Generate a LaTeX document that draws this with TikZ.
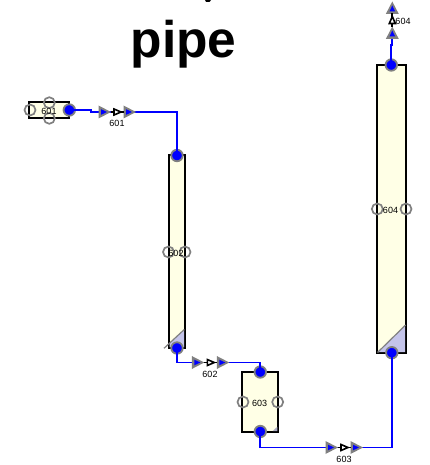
\documentclass[tikz,border=0pt]{standalone}
\usepackage{fontspec}
\setmainfont{Liberation Sans}
\definecolor{cream}{HTML}{FFFFE6}
\definecolor{lav}{HTML}{C4C4EA}
\definecolor{portgrey}{HTML}{808080}
\definecolor{pipeblue}{HTML}{0000FF}
\tikzset{
  x=1pt,y=-1pt,
  vessel/.style={draw=black,line width=2pt,fill=cream,inner sep=0pt,rectangle},
  corner/.style={fill=lav,draw=none},
  cornerline/.style={draw=portgrey,line width=1.2pt},
  pipeline/.style={draw=pipeblue,line width=1.9pt},
  openport/.style={circle,draw=portgrey,line width=1.7pt,minimum size=11pt,inner sep=0pt},
  fullport/.style={circle,draw=portgrey,fill=pipeblue,line width=1.8pt,minimum size=11.5pt,inner sep=0pt},
  tag/.style={font=\fontsize{9}{10}\selectfont,text=black,inner sep=0pt},
  valve/.pic={
    \fill[portgrey] (-19,-6.5) -- (-6.5,0) -- (-19,6.5) -- cycle;
    \fill[portgrey] (6,-6.5) -- (18.5,0) -- (6,6.5) -- cycle;
    \fill[pipeblue] (-16.5,-2.8) -- (-10.5,0) -- (-16.5,2.8) -- cycle;
    \fill[pipeblue] (8.5,-2.8) -- (14.5,0) -- (8.5,2.8) -- cycle;
    \draw[black,line width=1.8pt] (-7,0) -- (6.5,0);
    \draw[black,line width=1.6pt,fill=white] (-3.5,-3) -- (3.5,0) -- (-3.5,3) -- cycle;
  }
}
\begin{document}
\begin{tikzpicture}
\useasboundingbox[fill=white] (0,0) rectangle (429,465);
% title
\node[font=\bfseries\fontsize{51.5}{55}\selectfont,inner sep=0pt] (title) at (183.5,44.5) {pipe};
\fill[black] (205,0) -- (211,0) -- (209.5,2) -- (206,2) -- cycle;

% vessels
\node[vessel,minimum width=16.5pt,minimum height=193pt] (v602) at (176.8,251.5) {};
\node[vessel,minimum width=40pt,minimum height=16.5pt] (v601) at (49.3,110) {};
\node[vessel,minimum width=36pt,minimum height=60.5pt] (v603) at (260.3,402) {};
\node[vessel,minimum width=29pt,minimum height=288.5pt] (v604) at (391.6,208.8) {};

% lower corners
\fill[corner] (169.5,343.4) -- (184,330) -- (184,347) -- (169.5,347) -- cycle;
\draw[cornerline] (164,348.3) -- (184.3,329.5);
\fill[corner] (378,352) -- (405,326) -- (405,352) -- cycle;
\draw[cornerline] (377.5,352.5) -- (405.6,325);
\fill[lav!60!portgrey] (272.7,431) -- (277.3,426.8) -- (277.3,431) -- cycle;

% ports
\node[openport] (a601) at (30,110) {};
\node[openport] (b601) at (49.3,102.7) {};
\node[openport] (c601) at (49.3,118.3) {};
\node[openport] (a602) at (168.5,252) {};
\node[openport] (b602) at (185,252) {};
\node[openport] (a603) at (243,402) {};
\node[openport] (b603) at (277.7,402) {};
\node[openport] (a604) at (377.3,209) {};
\node[openport] (b604) at (406,209) {};

% connector anchors
\coordinate (j1a) at (91,110);
\coordinate (j1b) at (91,112);
\coordinate (k1)  at (177,112);
\coordinate (k2a) at (177,362.5);
\coordinate (k2b) at (260.3,362.5);
\coordinate (k3a) at (260.3,447.5);
\coordinate (k3b) at (391.8,447.5);
\coordinate (j4a) at (391.3,45);
\coordinate (j4b) at (392.3,45);
\coordinate (end4) at (392.3,33);

% filled ports
\node[fullport] (o601) at (69.3,110) {};
\node[fullport] (i602) at (177,155.5) {};
\node[fullport] (o602) at (177,348) {};
\node[fullport] (i603) at (260.3,372) {};
\node[fullport] (o603) at (260.3,431.5) {};
\node[fullport] (i604) at (391.8,352.7) {};
\node[fullport] (o604) at (391.3,65) {};

% pipes
\draw[pipeline] (o601.center) -- (j1a) -- (j1b) -- (k1) -- (i602.center);
\draw[pipeline] (o602.center) -- (k2a) -- (k2b) -- (i603.center);
\draw[pipeline] (o603.center) -- (k3a) -- (k3b) -- (i604.center);
\draw[pipeline] (o604.center) -- (j4a) -- (j4b) -- (end4);

% valves
\pic at (117.5,112) {valve};
\pic at (210.8,362.5) {valve};
\pic at (344.5,447.5) {valve};
\pic[rotate=90] at (392.3,20) {valve};

% labels
\node[tag] (l1) at (49,111) {601};
\node[tag] (l2) at (176,253.5) {602};
\node[tag] (l3) at (259.7,403) {603};
\node[tag] (l4) at (390.5,210.5) {604};
\node[tag] (t1) at (117,123.5) {601};
\node[tag] (t2) at (210,374) {602};
\node[tag] (t3) at (344,459) {603};
\node[tag] (t4) at (403,21) {604};
\end{tikzpicture}
\end{document}
